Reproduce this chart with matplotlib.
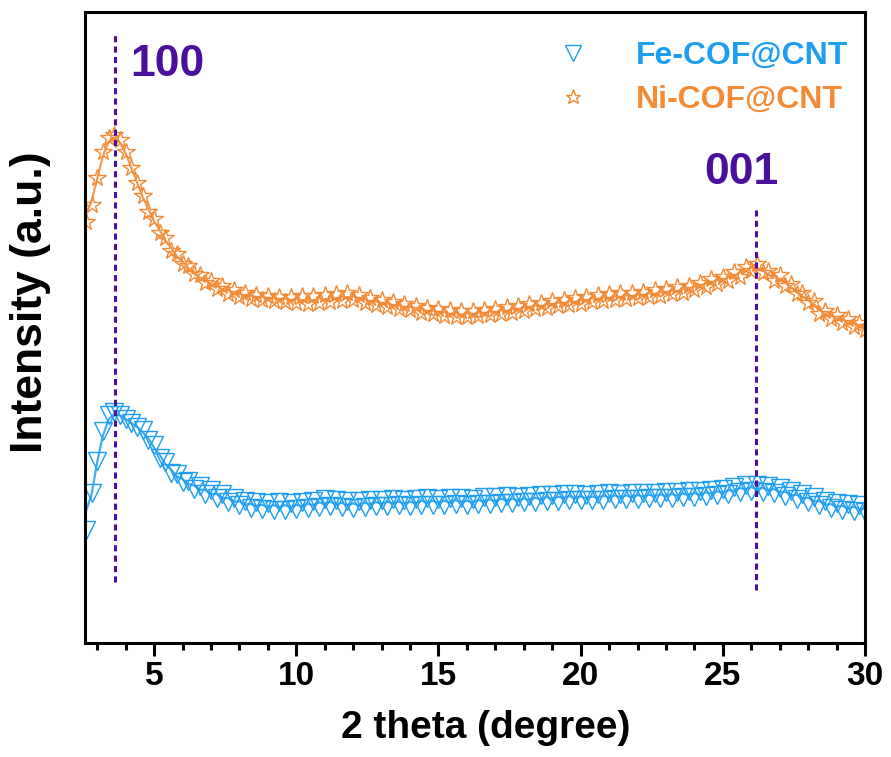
import matplotlib
matplotlib.use("Agg")
import matplotlib.pyplot as plt
from matplotlib.ticker import MultipleLocator, NullLocator
import numpy as np
import pandas as pd

plt.rcParams['font.family'] = ['Liberation Sans', 'DejaVu Sans']
plt.rcParams['font.weight'] = 'bold'

# 2 theta grid, 0.2 degree step
two_theta = np.round(np.arange(2.6, 30.01, 0.2), 1)

# Ni-COF@CNT intensity (offset, a.u.)
ni_cof = [421, 438, 465, 491, 505, 508, 503, 491, 475, 460,
          447, 431, 424, 410, 405, 392, 389, 379, 377, 369,
          368, 360, 362, 354, 357, 349, 353, 346, 350, 344,
          348, 343, 347, 342, 346, 341, 346, 340, 347, 339,
          347, 340, 348, 341, 349, 342, 350, 343, 348, 340,
          345, 338, 343, 336, 341, 334, 339, 333, 337, 330,
          335, 329, 334, 327, 333, 326, 332, 326, 332, 327,
          333, 328, 334, 329, 336, 330, 337, 332, 339, 334,
          340, 335, 342, 337, 343, 338, 345, 339, 346, 341,
          348, 342, 349, 343, 350, 344, 350, 345, 351, 346,
          353, 347, 354, 349, 356, 350, 357, 353, 360, 356,
          364, 359, 366, 362, 371, 366, 376, 372, 379, 370,
          372, 362, 368, 357, 359, 349, 350, 340, 342, 329,
          332, 324, 328, 320, 324, 316, 320, 313]

# Fe-COF@CNT intensity (a.u.)
fe_cof = [113, 150, 182, 212, 228, 231, 228, 224, 220, 216,
          213, 203, 198, 185, 181, 170, 169, 161, 162, 154,
          157, 149, 153, 145, 149, 141, 145, 138, 142, 135,
          141, 134, 140, 133, 141, 133, 140, 134, 141, 135,
          142, 136, 144, 137, 143, 136, 142, 135, 142, 136,
          143, 137, 143, 137, 144, 138, 143, 137, 144, 138,
          145, 138, 144, 138, 145, 139, 145, 138, 144, 139,
          146, 139, 146, 140, 147, 140, 146, 141, 147, 141,
          148, 142, 148, 142, 149, 143, 149, 143, 148, 143,
          149, 143, 150, 144, 149, 144, 150, 144, 150, 145,
          150, 145, 151, 145, 151, 146, 152, 146, 152, 147,
          153, 148, 154, 149, 156, 151, 158, 152, 158, 151,
          157, 150, 155, 147, 152, 144, 149, 141, 146, 138,
          142, 135, 140, 133, 139, 132, 138, 131]

# reflections: position, label, dashed line extent, label anchor
peak_pos = [3.62, 26.15]
peak_hkl = ['100', '001']
peak_top = [608, 433]
peak_bottom = [61, 53]
hkl_xy = [(5.45, 579), (25.67, 471)]

fe_color = '#1E9EF0'
ni_color = '#F38A35'
hkl_color = '#4A0F9C'

fig = plt.figure(figsize=(8.91, 7.57), dpi=100)
ax = fig.add_axes([0.0954, 0.1506, 0.8754, 0.8334])

fe_line = pd.Series(fe_cof).rolling(3, center=True, min_periods=1).mean()
ni_line = pd.Series(ni_cof).rolling(3, center=True, min_periods=1).mean()

ax.plot(two_theta, fe_line, color=fe_color, lw=1.6, alpha=0.85)
ax.plot(two_theta, ni_line, color=ni_color, lw=1.6, alpha=0.85)
ax.plot(two_theta, fe_cof, 'v', color=fe_color, ms=13, mfc='none',
        mec=fe_color, mew=1.0, label='Fe-COF@CNT')
ax.plot(two_theta, ni_cof, '*', color=ni_color, ms=13, mfc='none',
        mec=ni_color, mew=1.0, label='Ni-COF@CNT')

for pos, top, bot in zip(peak_pos, peak_top, peak_bottom):
    ax.plot([pos, pos], [bot, top], color=hkl_color, lw=2.2, ls=(0, (2, 1.4)))

for hkl, (hx, hy) in zip(peak_hkl, hkl_xy):
    ax.text(hx, hy, hkl, color=hkl_color, fontsize=32,
            fontweight='bold', ha='center', va='center')

ax.set_xlim(2.57, 30)
ax.set_ylim(0, 631)
ax.xaxis.set_major_locator(MultipleLocator(5))
ax.xaxis.set_minor_locator(MultipleLocator(1))
ax.yaxis.set_major_locator(NullLocator())

for s in ax.spines.values():
    s.set_linewidth(2.2)
ax.tick_params(axis='x', which='major', direction='out', length=9, width=2.2,
               labelsize=24, pad=4)
ax.tick_params(axis='x', which='minor', direction='out', length=5, width=2.2)
for lab in ax.get_xticklabels():
    lab.set_fontweight('bold')

ax.set_xlabel('2 theta (degree)', fontsize=28, fontweight='bold')
ax.set_ylabel('Intensity (a.u.)', fontsize=32, fontweight='bold', va='center')
ax.xaxis.set_label_coords(0.514, -0.106)
ax.yaxis.set_label_coords(-0.0705, 0.54)

leg = ax.legend(loc='upper right', bbox_to_anchor=(0.978, 0.954),
                frameon=False, fontsize=23, labelcolor='linecolor',
                handletextpad=1.45, borderaxespad=0, borderpad=0,
                labelspacing=0.44, handlelength=1.0, markerscale=0.85)
for t in leg.get_texts():
    t.set_fontweight('bold')

fig.savefig('out.png', dpi=100)
